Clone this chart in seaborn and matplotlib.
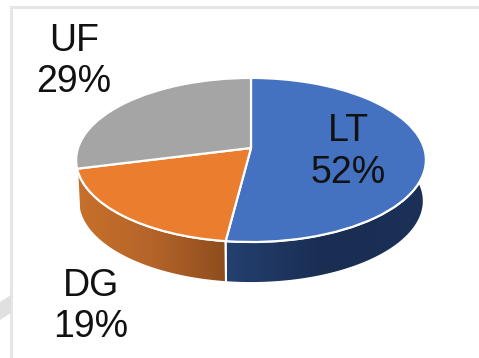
import numpy as np
import matplotlib
matplotlib.use("Agg")
import matplotlib.pyplot as plt
import seaborn as sns
from matplotlib.patches import Polygon
from matplotlib.transforms import Transform

categories = ["LT", "DG", "UF"]
shares = [52, 19, 29]
top_colors = ["#4472C0", "#EB7D2E", "#A5A5A5"]
wall_colors = {"LT": ["#24406F", "#1A2D52", "#1B3158"], "DG": ["#C8702A", "#B5642A", "#8E4D1E"]}
label_centres = {"LT": (348, 152), "DG": (91, 306.5), "UF": (74, 61.5)}

CX, CY = 251.0, 148.0
RX, RY, TILT = 173.0, 80.3, 0.146
DEPTH = 41.0
BASE_SHRINK = 0.988


class TiltedDisc(Transform):
    """Maps the unit disc to a foreshortened disc in pixel-like data units."""
    input_dims = output_dims = 2

    def __init__(self, dy=0.0, shrink=1.0):
        super().__init__()
        self.dy = dy
        self.shrink = shrink

    def transform_non_affine(self, values):
        xy = np.asarray(values, dtype=float)
        w = 1 + TILT * xy[:, 1]
        return np.column_stack([
            CX + self.shrink * RX * xy[:, 0] / w,
            CY + self.dy - RY * xy[:, 1] / w,
        ])


sns.set_theme(style="white")
plt.rcParams["font.family"] = ["Liberation Sans", "DejaVu Sans"]

fig = plt.figure(figsize=(4.79, 3.58), dpi=100, facecolor="white")
ax = fig.add_axes([0, 0, 1, 1])

wedges, _ = ax.pie(
    shares, colors=top_colors, startangle=90, counterclock=False,
    wedgeprops={"edgecolor": "white", "linewidth": 1.6, "joinstyle": "round"},
)
ax.set_aspect("auto")
ax.set_axis_on()
ax.set_frame_on(False)
ax.set_xticks([])
ax.set_yticks([])

top_map = TiltedDisc()
for w in wedges:
    w.set_transform(top_map + ax.transData)
    w.set_zorder(5)

# Visible side wall under each front-facing slice, shaded left to right
base_map = TiltedDisc(dy=DEPTH, shrink=BASE_SHRINK)
bounds = 90 - np.cumsum([0] + shares) * 3.6
for i, name in enumerate(categories):
    if name not in wall_colors:
        continue
    a0, a1 = bounds[i], bounds[i + 1]
    lo, hi = max(min(a0, a1), -188), min(max(a0, a1), 8)
    t = np.radians(np.linspace(lo, hi, 90))
    unit = np.column_stack([np.cos(t), np.sin(t)])
    upper = top_map.transform_non_affine(unit)
    lower = base_map.transform_non_affine(unit)
    outline = np.vstack([upper, lower[::-1]])
    x0, x1 = outline[:, 0].min(), outline[:, 0].max()
    y0, y1 = outline[:, 1].min(), outline[:, 1].max()
    cmap = matplotlib.colors.LinearSegmentedColormap.from_list(name, wall_colors[name])
    img = ax.imshow(np.linspace(0, 1, 256)[None, :], cmap=cmap, aspect="auto",
                    extent=(x0, x1, y1, y0), zorder=2, interpolation="bilinear")
    clip = Polygon(outline, closed=True, transform=ax.transData, fill=False)
    img.set_clip_path(clip)
    ax.add_patch(Polygon(outline, closed=True, fill=False, edgecolor="white",
                         linewidth=1.4, zorder=3))
ax.set_xlim(0, 479)
ax.set_ylim(358, 0)

# Slide frame and the faint diagonal band behind it
ax.plot([11.5, 11.5, 479], [358, 6.5, 6.5], color="#E6E6E6", lw=2.2, zorder=1,
        solid_joinstyle="miter")
ax.add_patch(Polygon([(0, 302), (11, 295), (11, 313), (0, 320)], closed=True,
                     facecolor="#E0E0E0", edgecolor="none", zorder=1))

for name, share in zip(categories, shares):
    x, y = label_centres[name]
    ax.text(x, y, f"{name}\n{share}%", ha="center", va="center", fontsize=27,
            color="#111111", linespacing=1.21, zorder=6)

fig.savefig("out.png", dpi=100)
